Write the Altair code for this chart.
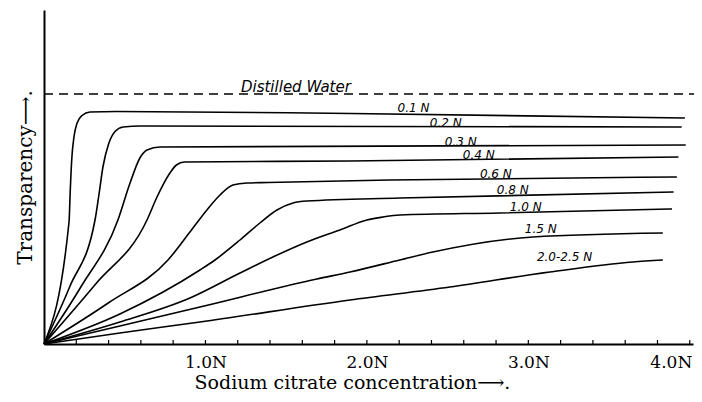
import altair as alt
import pandas as pd

# ---- data (x: sodium citrate concentration in N, y: transparency, arbitrary units; distilled water = 100)
series_names = ["0.1 N", "0.2 N", "0.3 N", "0.4 N", "0.6 N", "0.8 N", "1.0 N", "1.5 N", "2.0-2.5 N"]

x_01 = [0, 0.155, 0.163, 0.172, 0.186, 0.205, 0.235, 0.285, 0.45, 1.9, 3.97]
y_01 = [0, 48.8, 62.0, 74.0, 83.0, 88.4, 91.4, 92.8, 93.0, 92.2, 90.4]

x_02 = [0, 0.16, 0.316, 0.34, 0.365, 0.40, 0.44, 0.49, 0.60, 3.95]
y_02 = [0, 23.0, 49.6, 59.6, 70.8, 80.0, 85.0, 86.8, 87.2, 86.8]

x_03 = [0, 0.23, 0.458, 0.533, 0.594, 0.638, 0.718, 3.975]
y_03 = [0, 23.0, 49.6, 64.4, 74.4, 77.6, 78.8, 79.6]

x_04 = [0, 0.32, 0.638, 0.70, 0.78, 0.82, 0.87, 1.895, 3.93]
y_04 = [0, 24.0, 49.6, 58.8, 68.4, 71.6, 72.8, 73.2, 74.8]

x_06 = [0, 0.40, 0.768, 0.904, 1.009, 1.09, 1.17, 1.257, 1.387, 2.14, 3.92]
y_06 = [0, 16.5, 33.6, 44.8, 53.6, 59.6, 63.6, 64.4, 64.6, 65.6, 66.8]

x_08 = [0, 0.47, 0.966, 1.059, 1.214, 1.337, 1.443, 1.542, 1.628, 2.204, 3.9]
y_08 = [0, 12.0, 29.6, 33.6, 41.6, 48.4, 53.6, 56.4, 57.2, 58.4, 60.8]

x_10 = [0, 0.47, 0.904, 1.214, 1.418, 1.628, 1.833, 2.0, 2.1, 2.204, 2.82, 3.89]
y_10 = [0, 8.8, 18.4, 28.4, 34.8, 40.8, 45.6, 49.6, 50.8, 51.6, 52.4, 54.0]

x_15 = [0, 0.47, 0.966, 1.69, 1.895, 2.204, 2.409, 3.028, 3.833]
y_15 = [0, 7.2, 14.8, 26.0, 28.8, 33.6, 36.8, 42.8, 44.4]

x_20 = [0, 0.47, 0.966, 1.895, 2.514, 3.133, 3.647, 3.833]
y_20 = [0, 4.4, 8.8, 17.6, 22.8, 28.8, 32.8, 33.6]

water_x = [0, 4.03]
water_y = [100, 100]
water_label = "Distilled Water"
water_label_x = [1.22]
water_label_y = [103.0]

label_text = series_names
label_x = [2.19, 2.39, 2.483, 2.594, 2.70, 2.805, 2.885, 2.978, 3.053]
label_y = [94.4, 88.4, 80.8, 75.6, 68.0, 61.6, 54.8, 46.0, 34.8]

tick_x = [0.2, 0.4, 0.6, 0.8, 1.0, 1.2, 1.4, 1.6, 1.8, 2.0, 2.2, 2.4, 2.6, 2.8, 3.0, 3.2, 3.4, 3.6, 3.8, 4.0]
axis_label_values = [1, 2, 3, 4]

# ---- tables
all_x = [x_01, x_02, x_03, x_04, x_06, x_08, x_10, x_15, x_20]
all_y = [y_01, y_02, y_03, y_04, y_06, y_08, y_10, y_15, y_20]
rows = []
for name, xs, ys in zip(series_names, all_x, all_y):
    for xv, yv in zip(xs, ys):
        rows.append({"series": name, "c": xv, "t": yv})
curves = pd.DataFrame(rows)
water = pd.DataFrame({"c": water_x, "t": water_y})
labels = pd.DataFrame({"txt": label_text, "c": label_x, "t": label_y})
wlabel = pd.DataFrame({"txt": [water_label], "c": water_label_x, "t": water_label_y})
ticks = pd.DataFrame({"c": tick_x})

xscale = alt.Scale(domain=[0, 4.02], nice=False, zero=False)
yscale = alt.Scale(domain=[0, 133.6], nice=False)

x_axis = alt.Axis(
    values=axis_label_values,
    labelExpr="format(datum.value, '.1f') + 'N'",
    ticks=False, grid=False,
    domainColor="black", domainWidth=2,
    labelFont="DejaVu Serif", labelFontSize=17, labelColor="black",
    labelPadding=10, labelFlush=10, labelFlushOffset=2,
    title="Sodium citrate concentration\u27f6.",
    titleFont="DejaVu Serif", titleFontSize=19, titleFontWeight="normal",
    titleColor="black", titlePadding=3, titleX=308,
)
y_axis = alt.Axis(
    labels=False, ticks=False, grid=False,
    domainColor="black", domainWidth=2,
    title="Transparency\u27f6.",
    titleFont="DejaVu Serif", titleFontSize=20, titleFontWeight="normal",
    titleColor="black", titlePadding=9,
)

lines = alt.Chart(curves).mark_line(
    color="black", strokeWidth=1.6, interpolate="monotone"
).encode(
    x=alt.X("c:Q", scale=xscale, axis=x_axis),
    y=alt.Y("t:Q", scale=yscale, axis=y_axis),
    detail="series:N",
)

water_line = alt.Chart(water).mark_line(
    color="black", strokeWidth=1.6, strokeDash=[9, 6]
).encode(x=alt.X("c:Q", scale=xscale), y=alt.Y("t:Q", scale=yscale))

tick_marks = alt.Chart(ticks).mark_rule(color="black", strokeWidth=1.2).encode(
    x=alt.X("c:Q", scale=xscale), y=alt.value(330), y2=alt.value(334)
)

curve_labels = alt.Chart(labels).mark_text(
    align="left", baseline="middle", font="DejaVu Sans", fontStyle="italic",
    fontSize=12, color="black"
).encode(x=alt.X("c:Q", scale=xscale), y=alt.Y("t:Q", scale=yscale), text="txt:N")

water_text = alt.Chart(wlabel).mark_text(
    align="left", baseline="middle", font="DejaVu Sans", fontStyle="italic",
    fontSize=15, color="black"
).encode(x=alt.X("c:Q", scale=xscale), y=alt.Y("t:Q", scale=yscale), text="txt:N")

chart = alt.layer(lines, water_line, tick_marks, curve_labels, water_text).properties(
    width=649, height=334,
    padding={"left": 36, "top": 2, "right": 1, "bottom": 50},
    autosize="none",
    background="white",
).configure_view(stroke=None)

chart.save("out.html", embed_options={"renderer": "svg", "actions": False})
